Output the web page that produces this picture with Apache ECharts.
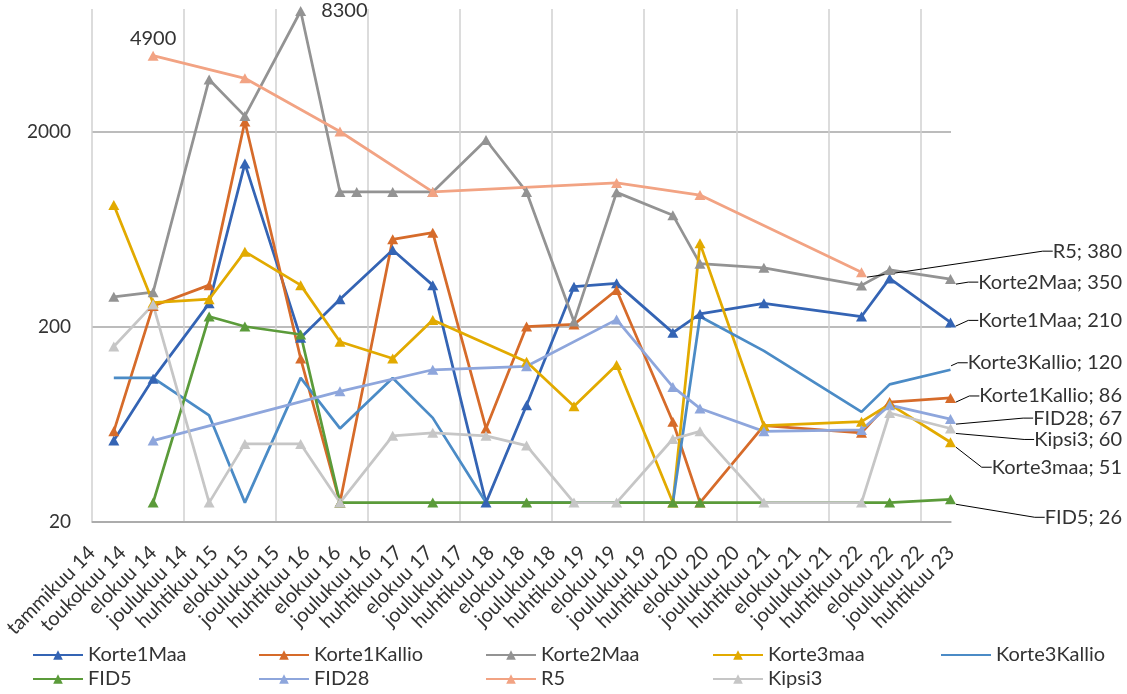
<!DOCTYPE html>
<html>
<head>
<meta charset="utf-8">
<script src="https://cdn.jsdelivr.net/npm/echarts@6/dist/echarts.min.js"></script>
<style>
  html, body { margin: 0; padding: 0; background: #ffffff; }
  #chart { width: 1127px; height: 694px; }
</style>
</head>
<body>
<div id="chart"></div>
<script>
// Sampling dates shared by all wells
const sampleDates = [
  '2014-03-28', '2014-08-30', '2015-04-08', '2015-08-27', '2016-04-03',
  '2016-09-05', '2016-11-10', '2017-04-01', '2017-09-06', '2018-04-04',
  '2018-09-11', '2019-03-17', '2019-09-01', '2020-04-10', '2020-07-26',
  '2021-04-04', '2022-04-24', '2022-08-13', '2023-04-10'
];

// Axis tick labels (one every 121 days from 1.1.2014)
const tickLabels = [
  'tammikuu 14', 'toukokuu 14', 'elokuu 14', 'joulukuu 14', 'huhtikuu 15',
  'elokuu 15', 'joulukuu 15', 'huhtikuu 16', 'elokuu 16', 'joulukuu 16',
  'huhtikuu 17', 'elokuu 17', 'joulukuu 17', 'huhtikuu 18', 'elokuu 18',
  'joulukuu 18', 'huhtikuu 19', 'elokuu 19', 'joulukuu 19', 'huhtikuu 20',
  'elokuu 20', 'joulukuu 20', 'huhtikuu 21', 'elokuu 21', 'joulukuu 21',
  'huhtikuu 22', 'elokuu 22', 'joulukuu 22', 'huhtikuu 23'
];
const yTickValues = [20, 200, 2000];

// Measured values per well (null = not sampled)
const korte1Maa    = [52, 108, 263, 1370, 175, 276, null, 494, 326, 25, 79, 320, 333, 186, 232, 263, 225, 353, 210];
const korte1Kallio = [58, 255, 326, 2250, 137, 25, null, 560, 606, 60, 200, 205, 308, 65, 25, 62, 57, 82, 86];
const korte2Maa    = [284, 300, 3700, 2400, 8300, 980, 980, 980, 980, 1810, 980, 212, 975, 745, 420, 400, 325, 390, 350];
const korte3maa    = [840, 265, 276, 484, 326, 167, null, 137, 216, null, 132, 78, 127, 25, 534, 62, 65, 80, 51];
const korte3Kallio = [109, 109, 70, 25, 109, 60, null, 109, 68, 25, null, null, null, 25, 225, 150, 73, 101, 120];
const fid5         = [null, 25, 225, 200, 182, 25, null, null, 25, null, 25, null, null, 25, 25, null, null, 25, 26];
const fid28        = [null, 52, null, null, null, 93, null, null, 120, null, 125, null, 217, 98, 76, 58, 59, 79, 67];
const r5           = [null, 4900, null, 3750, null, 2000, null, null, 980, null, null, null, 1090, null, 945, null, 380, null, null];
const kipsi3       = [158, 259, 25, 50, 50, 25, null, 55, 57, 55, 49, 25, 25, 53, 58, 25, 25, 72, 60];

const DAY_MS = 86400000;
const STEP_DAYS = 121;
const origin = Date.UTC(2014, 0, 1);
const dayOf = s => {
  const [y, m, d] = s.split('-').map(Number);
  return Math.round((Date.UTC(y, m - 1, d) - origin) / DAY_MS);
};
const xDays = sampleDates.map(dayOf);

const FONT = 'Lato';
const TEXT = '#333333';

// name, values, colour, markers, end-label vertical shift, peak label position
const wells = [
  { name: 'Korte1Maa',    values: korte1Maa,    color: '#3464B4', marker: true,  shift: -2 },
  { name: 'Korte1Kallio', values: korte1Kallio, color: '#D66B2A', marker: true,  shift: -2 },
  { name: 'Korte2Maa',    values: korte2Maa,    color: '#939393', marker: true,  shift: 3, peak: 'right' },
  { name: 'Korte3maa',    values: korte3maa,    color: '#E2AA00', marker: true,  shift: 25 },
  { name: 'Korte3Kallio', values: korte3Kallio, color: '#4B8BC6', marker: false, shift: -7 },
  { name: 'FID5',         values: fid5,         color: '#5B9B3A', marker: true,  shift: 18 },
  { name: 'FID28',        values: fid28,        color: '#8EA6DC', marker: true,  shift: -1 },
  { name: 'R5',           values: r5,           color: '#F2A383', marker: true,  shift: -21, peak: 'top' },
  { name: 'Kipsi3',       values: kipsi3,       color: '#C6C6C6', marker: true,  shift: 11 }
];

const labelFont = { fontFamily: FONT, fontSize: 20, color: TEXT };

const series = wells.map(w => {
  const pts = [];
  w.values.forEach((v, i) => { if (v != null) pts.push([xDays[i], v]); });
  const last = pts.length - 1;
  let peakIdx = -1;
  if (w.peak) {
    let best = -Infinity;
    pts.forEach((p, i) => { if (p[1] > best) { best = p[1]; peakIdx = i; } });
  }
  const data = pts.map((p, i) => {
    if (i === last) {
      return {
        value: p,
        label: { show: true, position: 'right', formatter: q => w.name + '; ' + q.value[1] },
        labelLine: { show: true, length2: 10, lineStyle: { color: '#000000', width: 1 } }
      };
    }
    if (i === peakIdx) {
      return {
        value: p,
        label: { show: true, position: w.peak, distance: w.peak === 'top' ? 2 : 15,
                 formatter: q => String(q.value[1]) }
      };
    }
    return p;
  });
  return {
    name: w.name,
    type: 'line',
    data: data,
    symbol: 'triangle',
    symbolSize: [11, 10],
    showSymbol: true,
    lineStyle: { color: w.color, width: 2.75 },
    itemStyle: { color: w.marker ? w.color : 'rgba(0,0,0,0)' },
    label: Object.assign({ show: false }, labelFont),
    labelLine: { show: false },
    labelLayout: params => {
      if (params.dataIndex !== last) return {};
      return {
        x: 1122,
        y: params.rect.y + params.rect.height / 2 + w.shift,
        align: 'right',
        verticalAlign: 'middle'
      };
    },
    emphasis: { disabled: true },
    z: 2
  };
});

// Legend laid out in five columns, two rows
const legendCols = [
  { left: 32,  names: ['Korte1Maa', 'FID5'] },
  { left: 258, names: ['Korte1Kallio', 'FID28'] },
  { left: 485, names: ['Korte2Maa', 'R5'] },
  { left: 712, names: ['Korte3maa', 'Kipsi3'] },
  { left: 940, names: ['Korte3Kallio'] }
];
const legends = legendCols.map(c => ({
  orient: 'vertical',
  left: c.left,
  top: 645,
  itemWidth: 50,
  itemHeight: 12,
  itemGap: 4,
  padding: 0,
  selectedMode: false,
  data: c.names,
  textStyle: { fontFamily: FONT, fontSize: 20, color: TEXT, lineHeight: 20 }
}));

const chart = echarts.init(document.getElementById('chart'), null, { renderer: 'canvas' });
chart.setOption({
  animation: false,
  backgroundColor: '#ffffff',
  legend: legends,
  grid: { left: 92, right: 176, top: 9, bottom: 172.5, containLabel: false },
  xAxis: {
    type: 'value',
    min: 0,
    max: STEP_DAYS * (tickLabels.length - 1),
    axisLine: { show: true, lineStyle: { color: '#A6A6A6', width: 1.5 } },
    axisTick: {
      show: false,
      customValues: tickLabels.map((_, i) => i * STEP_DAYS).filter((_, i) => i % 3 === 0)
    },
    axisLabel: {
      customValues: tickLabels.map((_, i) => i * STEP_DAYS),
      formatter: v => tickLabels[Math.round(v / STEP_DAYS)],
      rotate: 45,
      margin: 28,
      fontFamily: FONT,
      fontSize: 20,
      color: TEXT
    },
    splitLine: { show: true, lineStyle: { color: '#D0D0D0', width: 1.5 } }
  },
  yAxis: {
    type: 'log',
    logBase: 10,
    min: 20,
    max: 8500,
    axisLine: { show: false },
    axisTick: { show: false, customValues: yTickValues },
    axisLabel: {
      customValues: yTickValues,
      formatter: v => String(v),
      margin: 21,
      fontFamily: FONT,
      fontSize: 19,
      color: TEXT
    },
    splitLine: { show: true, lineStyle: { color: '#A6A6A6', width: 1.5 } }
  },
  series: series
});
</script>
</body>
</html>
